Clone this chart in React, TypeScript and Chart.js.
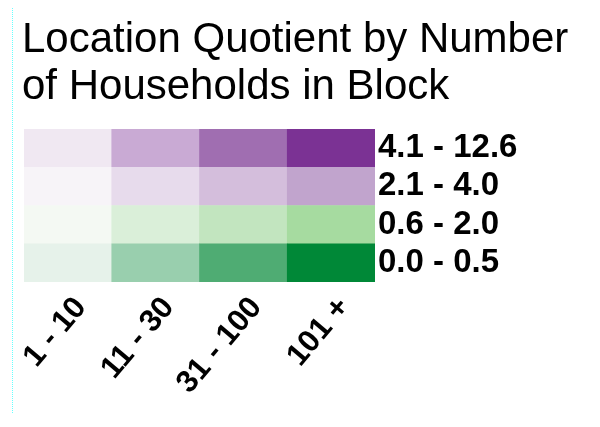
import React, { useEffect, useRef } from "react";
import { Chart, registerables } from "chart.js";

Chart.register(...registerables);

const titleLines = ["Location Quotient by Number", "of Households in Block"];
const colLabels = ["1 - 10", "11 - 30", "31 - 100", "101 +"];
// right-hand labels, top to bottom
const rowLabels = ["4.1 - 12.6", "2.1 - 4.0", "0.6 - 2.0", "0.0 - 0.5"];
// every cell is one unit tall in its stack
const cellHeights = [1, 1, 1, 1];
// colours per row, left to right
const colorsRow41 = ["#f0e8f2", "#c9aad4", "#a06eb1", "#7b3294"];
const colorsRow21 = ["#f7f4f8", "#e7dbec", "#d4bedc", "#c1a4cd"];
const colorsRow06 = ["#f4f9f3", "#daefd9", "#c2e5bf", "#a6dba0"];
const colorsRow00 = ["#e6f2ea", "#99cfae", "#4fac73", "#008837"];

const FONT = "'Liberation Sans', Arial, Helvetica, sans-serif";

export default function App() {
  const ref = useRef<HTMLCanvasElement | null>(null);

  useEffect(() => {
    if (!ref.current) return;
    const rowsBottomUp = [
      { label: rowLabels[3], colors: colorsRow00 },
      { label: rowLabels[2], colors: colorsRow06 },
      { label: rowLabels[1], colors: colorsRow21 },
      { label: rowLabels[0], colors: colorsRow41 },
    ];
    const chart = new Chart(ref.current, {
      type: "bar",
      data: {
        labels: colLabels,
        datasets: rowsBottomUp.map((r) => ({
          label: r.label,
          data: cellHeights,
          backgroundColor: r.colors,
          borderWidth: 0,
          borderSkipped: false,
          barPercentage: 1,
          categoryPercentage: 1,
          yAxisID: "y",
          xAxisID: "x",
        })),
      },
      options: {
        responsive: false,
        animation: false,
        layout: { padding: { left: 14, right: 0, top: 0, bottom: 7 } },
        plugins: {
          legend: { display: false },
          tooltip: { enabled: false },
          title: {
            display: true,
            text: titleLines,
            align: "start",
            color: "#000",
            font: { family: FONT, size: 42, weight: "normal", lineHeight: 1.112 },
            padding: { top: 9.1, bottom: 18.5 },
          },
        },
        scales: {
          x: {
            type: "category",
            stacked: true,
            offset: true,
            grid: { display: false },
            border: { display: false },
            ticks: {
              color: "#000",
              font: { family: FONT, size: 31, weight: "bold" },
              minRotation: 50,
              maxRotation: 50,
              autoSkip: false,
              padding: 0,
              labelOffset: 13,
            },
            afterFit: (s: any) => {
              s.height = 130;
              s.paddingLeft = 0;
              s.paddingRight = 0;
            },
          },
          y: {
            type: "linear",
            stacked: true,
            min: 0,
            max: 4,
            display: true,
            grid: { display: false, drawTicks: false },
            border: { display: false },
            ticks: { display: false },
            afterFit: (s: any) => {
              s.width = 2;
              s.paddingTop = 0;
              s.paddingBottom = 0;
            },
          },
          y2: {
            type: "category",
            labels: rowLabels,
            position: "right",
            offset: true,
            grid: { display: false, drawTicks: false, tickLength: 0 },
            border: { display: false },
            ticks: {
              color: "#000",
              font: { family: FONT, size: 33, weight: "bold" },
              autoSkip: false,
              padding: 3,
            },
            afterFit: (s: any) => {
              s.width = 217;
              s.paddingTop = 0;
              s.paddingBottom = 0;
            },
          },
        },
      } as any,
    });
    return () => chart.destroy();
  }, []);

  return (
    <div style={{ position: "relative", width: 584, height: 411 }}>
      <div
        style={{
          position: "absolute",
          left: 4,
          top: -8,
          height: 413,
          borderLeft: "1px dotted #66ffff",
        }}
      />
      <canvas ref={ref} width={584} height={411} style={{ display: "block" }} />
    </div>
  );
}
